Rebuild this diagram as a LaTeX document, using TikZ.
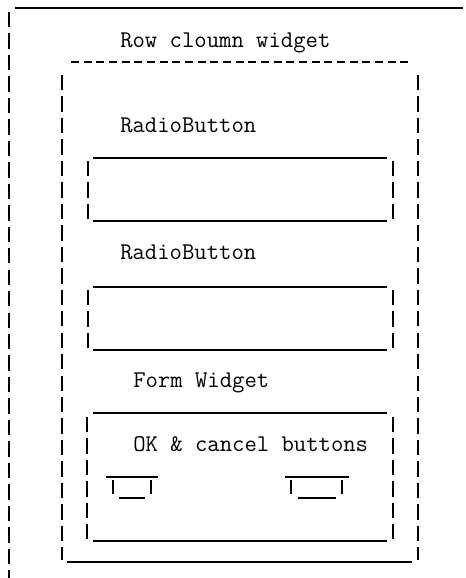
\documentclass[tikz,border=0pt]{standalone}
\usepackage{fontspec}
\tikzset{
  vbar/.style={line width=1.1pt,dash pattern=on 11.5pt off 4.6pt},
  hbar/.style={line width=1pt},
  lbl/.style={anchor=base west,inner sep=0pt,font=\ttfamily\fontsize{18}{21}\selectfont}
}
\begin{document}
\begin{tikzpicture}[x=0.75pt,y=-0.75pt]
        \useasboundingbox (0,0) rectangle (466,578);
        % outer window
        \draw[hbar](15,8)--(463,8);
        \draw[vbar](9,12)--(9,578);
        \node[lbl] (title) at(120,47) {Row cloumn widget};
        \draw[hbar,dash pattern=on 6pt off 3.5pt](71,62)--(410,62);
        % row column frame
        \draw[vbar](62,75)--(62,560);
        \draw[vbar](418,75)--(418,560);
        \draw[hbar](67,562)--(412,562);
        % first radio button
        \node[lbl] (radioa) at(120,132) {RadioButton};
        \draw[hbar](93,158)--(387,158);
        \draw[vbar](88,161)--(88,219);
        \draw[vbar](393,161)--(393,219);
        \draw[hbar](93,221)--(387,221);
        % second radio button
        \node[lbl] (radiob) at(120,259) {RadioButton};
        \draw[hbar](93,287)--(387,287);
        \draw[vbar](88,290)--(88,348);
        \draw[vbar](393,290)--(393,348);
        \draw[hbar](93,350)--(387,350);
        % form
        \node[lbl] (form) at(133,387) {Form Widget};
        \draw[hbar](93,413)--(387,413);
        \draw[vbar](87,417)--(87,539);
        \draw[vbar](393,417)--(393,539);
        \draw[hbar](93,541)--(387,541);
        \node[lbl] (okcancel) at(133,451) {OK \& cancel buttons};
        % ok button
        \draw[hbar](106,477)--(158,477);
        \draw[line width=1.1pt](113,480)--(113,494);
        \draw[line width=1.1pt](151,480)--(151,494);
        \draw[hbar](119,498)--(145,498);
        % cancel button
        \draw[hbar](285,477)--(349,477);
        \draw[line width=1.1pt](291,480)--(291,494);
        \draw[line width=1.1pt](342,480)--(342,494);
        \draw[hbar](298,498)--(336,498);
      \end{tikzpicture}
\end{document}
